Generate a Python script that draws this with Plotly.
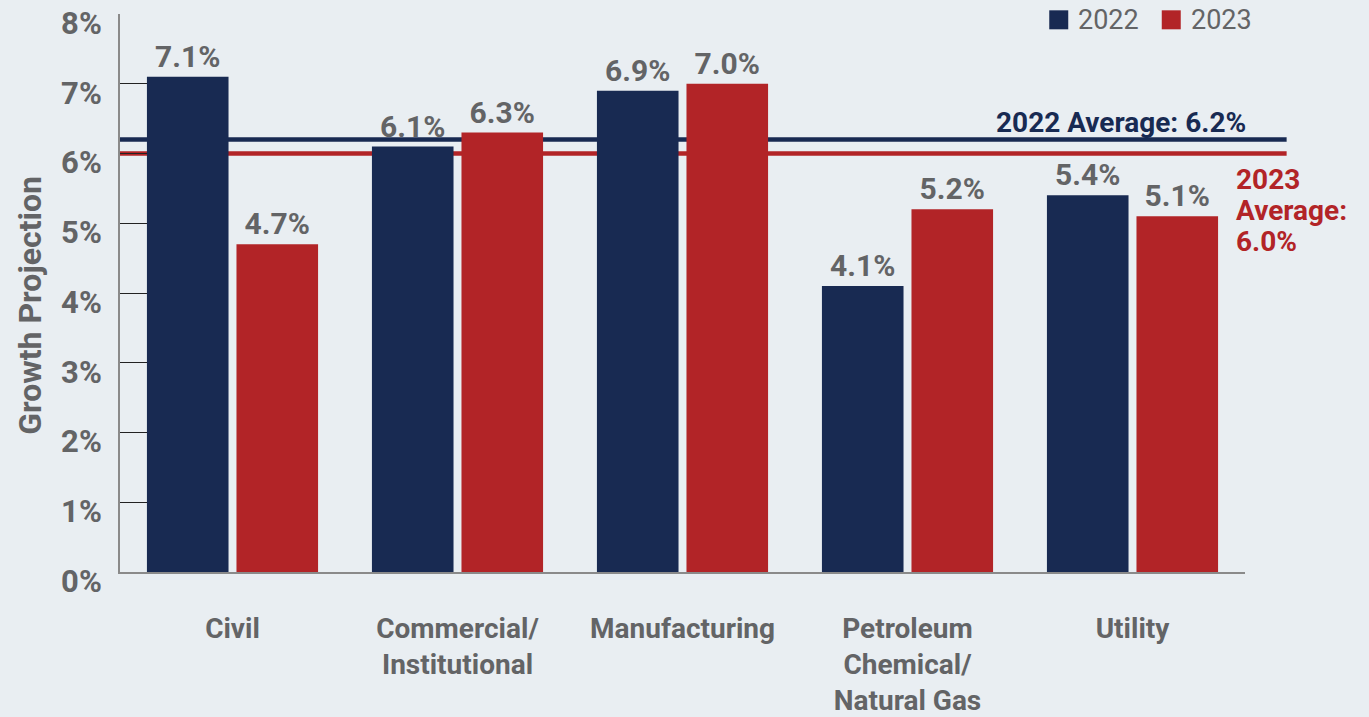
import plotly.graph_objects as go

# Sector growth projections (%)
categories = ["Civil", "Commercial/<br>Institutional", "Manufacturing",
              "Petroleum<br>Chemical/<br>Natural Gas", "Utility"]
growth_2022 = [7.1, 6.1, 6.9, 4.1, 5.4]
growth_2023 = [4.7, 6.3, 7.0, 5.2, 5.1]
avg_2022 = 6.2
avg_2023 = 6.0
y_ticks = [0, 1, 2, 3, 4, 5, 6, 7, 8]

NAVY = "#182A52"
RED = "#B22427"
GREY = "#636466"
BG = "#E9EEF2"
FONT = "Roboto"

fig = go.Figure()
for name, vals, col in [("2022", growth_2022, NAVY), ("2023", growth_2023, RED)]:
    fig.add_trace(go.Bar(
        name=name, x=categories, y=vals, marker_color=col, marker_line_width=0,
        text=[f"<b>{v:.1f}%</b>" for v in vals], textposition="outside",
        textfont=dict(family=FONT, size=30, color=GREY), cliponaxis=False,
        showlegend=False,
    ))

# Average reference lines: inside the plot they sit beneath the bars,
# then continue a little past the right edge of the axis
for val, col in [(avg_2022, NAVY), (avg_2023, RED)]:
    fig.add_shape(type="line", xref="x", yref="y", x0=-0.5, x1=4.5,
                  y0=val, y1=val, line=dict(color=col, width=4.5), layer="below")
    fig.add_shape(type="line", xref="paper", yref="y", x0=1.0, x1=1.037,
                  y0=val, y1=val, line=dict(color=col, width=4.5), layer="above")

fig.add_annotation(xref="paper", yref="y", x=1.0027, y=avg_2022, yshift=17,
                   xanchor="right", yanchor="middle", showarrow=False,
                   text=f"<b>2022 Average: {avg_2022:.1f}%</b>",
                   font=dict(family=FONT, size=28, color=NAVY))

# 2023 average label, stacked in three tight lines
for line_text, shift in [("2023", -26), ("Average:", -57), (f"{avg_2023:.1f}%", -88)]:
    fig.add_annotation(xref="paper", yref="y", x=0.9905, y=avg_2023, yshift=shift,
                       xanchor="left", yanchor="middle", showarrow=False,
                       text=f"<b>{line_text}</b>",
                       font=dict(family=FONT, size=28, color=RED))

# Legend: colour swatch followed by the year
legend_items = [("2022", NAVY, 0.826), ("2023", RED, 0.926)]
for label, col, x0 in legend_items:
    fig.add_shape(type="rect", xref="paper", yref="paper",
                  x0=x0, x1=x0 + 19 / 1125, y0=1.0066, y1=1.0066 - 19 / 558,
                  fillcolor=col, line_width=0)
    fig.add_annotation(xref="paper", yref="paper", x=x0 + 27 / 1125, y=0.9895,
                       xanchor="left", yanchor="middle", showarrow=False,
                       text=label, font=dict(family=FONT, size=27, color=GREY))

# Vertical axis title
fig.add_annotation(xref="paper", yref="paper", x=-0.08, y=0.477,
                   xanchor="center", yanchor="middle", showarrow=False,
                   textangle=-90, text="<b>Growth Projection</b>",
                   font=dict(family=FONT, size=32, color=GREY))

fig.update_layout(
    width=1369, height=717,
    margin=dict(l=120, r=124, t=14, b=145),
    paper_bgcolor=BG, plot_bgcolor=BG,
    barmode="group", bargap=0.204, bargroupgap=0.089,
    font=dict(family=FONT, color=GREY),
    showlegend=False,
    xaxis=dict(range=[-0.5, 4.5], showline=True, linecolor="#8A8A8A", linewidth=2,
               ticks="", showgrid=False, ticklabelstandoff=30, automargin=False,
               tickfont=dict(family=FONT, size=28, color=GREY),
               tickprefix="<b>", ticksuffix="</b>"),
    yaxis=dict(range=[0, 8], tickvals=y_ticks,
               ticktext=[f"<b>{t}%</b>" for t in y_ticks],
               showline=True, linecolor="#8A8A8A", linewidth=2,
               ticks="inside", ticklen=27, tickcolor="#222222", tickwidth=1,
               showgrid=False, zeroline=False, ticklabelstandoff=10,
               ticklabelshift=9, ticklabeloverflow="allow", automargin=False,
               tickfont=dict(family=FONT, size=31, color=GREY)),
)

fig.write_html("out.html")
